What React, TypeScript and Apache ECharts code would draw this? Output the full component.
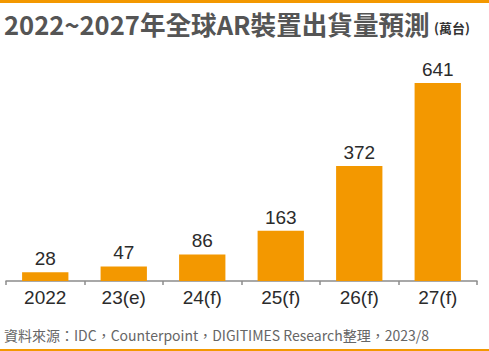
import React, { useEffect, useRef } from "react";
import * as echarts from "echarts";

const categories = ["2022", "23(e)", "24(f)", "25(f)", "26(f)", "27(f)"];
const shipments = [28, 47, 86, 163, 372, 641];
const titleText = "2022~2027年全球AR裝置出貨量預測";
const unitText = "(萬台)";
const sourceText = "資料來源：IDC，Counterpoint，DIGITIMES Research整理，2023/8";

export default function App() {
  const ref = useRef<HTMLDivElement>(null);
  useEffect(() => {
    const chart = echarts.init(ref.current!, null, { renderer: "svg" });
    chart.setOption({
      animation: false,
      backgroundColor: "#ffffff",
      grid: { left: 6, right: 12, top: 40, bottom: 70, containLabel: false },
      xAxis: {
        type: "category",
        data: categories,
        axisLine: { lineStyle: { color: "#8c8c8c", width: 1.5 } },
        axisTick: { show: true, length: 4, lineStyle: { color: "#8c8c8c", width: 1.5 } },
        axisLabel: {
          color: "#2b2b2b",
          fontSize: 19,
          margin: 7,
          fontFamily: "'Liberation Sans', sans-serif",
        },
      },
      yAxis: { type: "value", min: 0, max: 780, show: false, splitLine: { show: false } },
      series: [
        {
          type: "bar",
          data: shipments,
          barWidth: "59%",
          itemStyle: { color: "#F39800" },
          label: {
            show: true,
            position: "top",
            distance: 4,
            color: "#2b2b2b",
            fontSize: 19,
            fontFamily: "'Liberation Sans', sans-serif",
          },
        },
      ],
      graphic: [
        { type: "rect", shape: { x: 0, y: 0, width: 489, height: 3 }, style: { fill: "#F39800" } },
        { type: "rect", shape: { x: 0, y: 349, width: 489, height: 2 }, style: { fill: "#F39800" } },
        {
          type: "text",
          x: 4,
          y: 23,
          style: {
            text: titleText,
            fill: "#555555",
            font: "bold 25.6px 'Noto Sans CJK TC', sans-serif",
            verticalAlign: "middle",
          },
        },
        {
          type: "text",
          x: 434,
          y: 27,
          style: {
            text: unitText,
            fill: "#333333",
            font: "bold 13px 'Noto Sans CJK TC', sans-serif",
            verticalAlign: "middle",
          },
        },
        {
          type: "text",
          x: 4,
          y: 335,
          style: {
            text: sourceText,
            fill: "#666666",
            font: "14px 'Noto Sans CJK TC', sans-serif",
            verticalAlign: "middle",
          },
        },
      ],
    });
    return () => chart.dispose();
  }, []);
  return <div ref={ref} style={{ width: 489, height: 351, position: "fixed", left: 0, top: 0 }} />;
}
